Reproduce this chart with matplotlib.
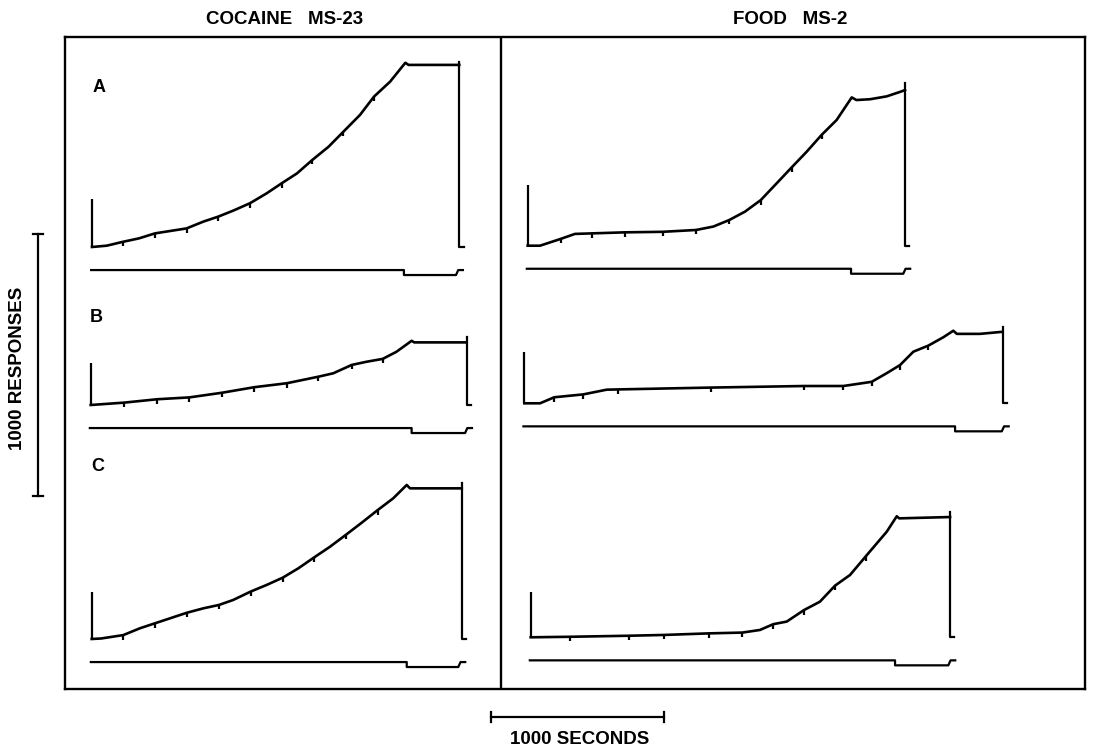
import matplotlib.pyplot as plt
import numpy as np

# Cumulative records: time in seconds, cumulative responses.
# Order: cocaine A, B, C, then food A, B, C.
coc_a_t = [0, 85, 180, 272, 364, 547, 644, 730, 817, 913, 1010, 1096, 1185, 1273,
           1368, 1453, 1549, 1630, 1723, 1811, 1830, 2123]
coc_a_r = [0, 5, 20, 33, 52, 71, 97, 116, 139, 167, 205, 243, 281, 332,
           383, 440, 504, 574, 631, 703, 695, 695]
coc_a_marks = [180, 364, 547, 730, 913, 1096, 1273, 1453, 1630]

coc_b_t = [0, 192, 385, 570, 761, 946, 1133, 1316, 1402, 1509, 1594, 1688, 1767,
           1855, 1870, 2173]
coc_b_r = [0, 9, 22, 29, 47, 68, 83, 108, 121, 153, 165, 176, 203, 245, 239, 239]
coc_b_marks = [192, 385, 570, 761, 946, 1133, 1316, 1509, 1688]

coc_c_t = [0, 55, 183, 279, 366, 549, 645, 736, 818, 919, 1010, 1104, 1195, 1287,
           1377, 1468, 1561, 1653, 1743, 1821, 1840, 2139]
coc_c_r = [0, 2, 15, 41, 60, 100, 117, 130, 149, 181, 206, 234, 270, 312,
           352, 397, 444, 492, 537, 588, 575, 575]
coc_c_marks = [183, 366, 549, 736, 919, 1104, 1287, 1468, 1653]

food_a_t = [0, 71, 191, 273, 370, 562, 780, 973, 1073, 1165, 1256, 1347, 1439, 1526,
            1613, 1699, 1786, 1873, 1900, 1979, 2075, 2152, 2181]
food_a_r = [0, 0, 26, 45, 47, 51, 53, 60, 73, 98, 130, 174, 238, 299,
            359, 423, 480, 566, 556, 559, 570, 587, 594]
food_a_marks = [191, 370, 562, 780, 973, 1165, 1347, 1526, 1699]

food_b_t = [0, 91, 173, 341, 476, 543, 1077, 1617, 1844, 2008, 2095, 2172, 2249,
            2335, 2422, 2480, 2500, 2634, 2765]
food_b_r = [0, 0, 23, 34, 52, 53, 60, 66, 66, 82, 115, 146, 197,
            220, 252, 277, 265, 265, 273]
food_b_marks = [173, 341, 543, 1077, 1617, 1844, 2008, 2172, 2335]

food_c_t = [0, 227, 570, 771, 1031, 1223, 1325, 1402, 1480, 1580, 1672, 1759, 1846,
            1938, 2058, 2116, 2130, 2424]
food_c_r = [0, 2, 6, 9, 15, 18, 28, 50, 60, 104, 136, 197, 238,
            310, 403, 462, 454, 459]
food_c_marks = [227, 570, 771, 1031, 1223, 1402, 1580, 1759, 1938]

start_pip = [183, 159, 181, 232, 197, 174]      # responses
reset_t = [2123, 2173, 2139, 2181, 2765, 2424]   # seconds
reset_top = [707, 258, 594, 620, 292, 479]       # responses
event_on = [1803, 1855, 1821, 1869, 2490, 2106]  # seconds
event_off = [2104, 2164, 2119, 2171, 2760, 2414]

panel_labels = ["A", "B", "C"]
titles = ["COCAINE   MS-23", "FOOD   MS-2"]

W, H = 1095, 748
PX_PER_SEC = 0.173
PX_PER_RESP = 0.262

# record origins on the page (pixels from top-left)
origins = [(92, 247), (90.7, 405), (91.7, 639),
           (527.7, 245.7), (524.3, 403.3), (530.7, 637.3)]

INK = "black"
FONT = dict(family=["Liberation Sans", "DejaVu Sans"], fontweight="bold", color=INK)

fig = plt.figure(figsize=(W / 100, H / 100), dpi=100)
fig.patch.set_facecolor("white")


def record_axes(x0, y0):
    xmin, xmax = -400, 3000
    ymin, ymax = -400, 800
    left = x0 + xmin * PX_PER_SEC
    bottom = y0 - ymin * PX_PER_RESP
    ax = fig.add_axes([left / W, 1 - bottom / H,
                       (xmax - xmin) * PX_PER_SEC / W,
                       (ymax - ymin) * PX_PER_RESP / H])
    ax.set_xlim(xmin, xmax)
    ax.set_ylim(ymin, ymax)
    ax.axis("off")
    return ax


# outer frame with the divider between the two subjects
frame = fig.add_axes([65 / W, 1 - 689 / H, (1085 - 65) / W, (689 - 37) / H])
frame.set_xticks([])
frame.set_yticks([])
for s in frame.spines.values():
    s.set_linewidth(1.7)
frame.axvline((501 - 65) / (1085 - 65), color=INK, lw=1.7)

records = [
    (coc_a_t, coc_a_r, coc_a_marks),
    (coc_b_t, coc_b_r, coc_b_marks),
    (coc_c_t, coc_c_r, coc_c_marks),
    (food_a_t, food_a_r, food_a_marks),
    (food_b_t, food_b_r, food_b_marks),
    (food_c_t, food_c_r, food_c_marks),
]

EV = -88      # event pen level below the baseline
EV_STEP = 19

axes = []
for i, (t, r, marks) in enumerate(records):
    ax = record_axes(*origins[i])
    axes.append(ax)
    # start pip
    ax.plot([0, 0], [start_pip[i], 0], color=INK, lw=1.6, solid_capstyle="butt")
    # cumulative curve
    ax.plot(t, r, color=INK, lw=1.9, solid_joinstyle="round")
    # pen reset
    ax.plot([reset_t[i], reset_t[i], reset_t[i] + 25], [reset_top[i], 0, 0],
            color=INK, lw=1.6)
    # hatch marks
    my = np.interp(marks, t, r)
    ax.vlines(marks, my - 17, my, color=INK, lw=1.6)
    # event pen
    ex = [-5, event_on[i], event_on[i], event_off[i], event_off[i] + 13, event_off[i] + 40]
    ey = [EV, EV, EV - EV_STEP, EV - EV_STEP, EV, EV]
    ax.plot(ex, ey, color=INK, lw=1.6)

# calibration bars
axes[1].plot([-305, -305], [-347, 653], color=INK, lw=1.6, clip_on=False)
axes[1].plot([-335, -275], [653, 653], color=INK, lw=1.6, clip_on=False)
axes[1].plot([-335, -275], [-347, -347], color=INK, lw=1.6, clip_on=False)
axes[5].plot([-229, 771], [-304, -304], color=INK, lw=1.6, clip_on=False)
axes[5].plot([-229, -229], [-324, -284], color=INK, lw=1.6, clip_on=False)
axes[5].plot([771, 771], [-324, -284], color=INK, lw=1.6, clip_on=False)

# text
fig.text(285 / W, 1 - 19 / H, titles[0], ha="center", va="center", fontsize=13.5, **FONT)
fig.text(790 / W, 1 - 19 / H, titles[1], ha="center", va="center", fontsize=13.5, **FONT)
for lab, (x, y) in zip(panel_labels, [(99, 88), (96.5, 317.5), (97.5, 466)]):
    fig.text(x / W, 1 - y / H, lab, ha="center", va="center", fontsize=13, **FONT)
fig.text(18 / W, 1 - 368 / H, "1000 RESPONSES", rotation=90, ha="center", va="center",
         fontsize=13.5, **FONT)
fig.text(580 / W, 1 - 739 / H, "1000 SECONDS", ha="center", va="center", fontsize=13.5, **FONT)

fig.savefig("out.png", dpi=100, facecolor="white")
